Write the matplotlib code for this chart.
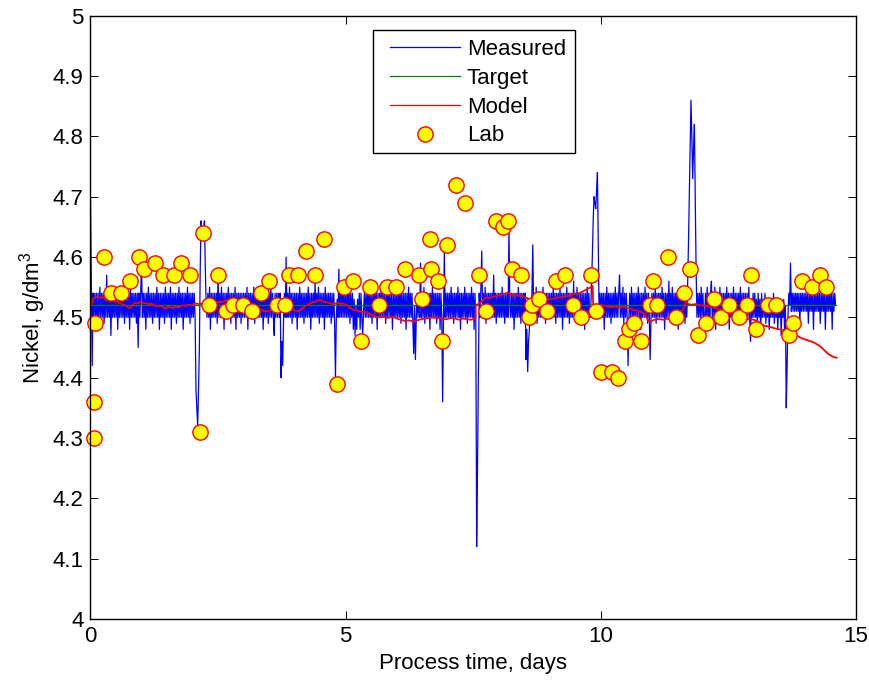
import numpy as np
import matplotlib.pyplot as plt
from matplotlib.patches import Rectangle

# measured nickel, hundredths of g/dm3, one sample every 1/60 day (3 lines = 1 day)
measured_centi = [
    470, 456, 442, 454, 450, 454, 450, 454, 448, 454, 450, 455, 450, 454, 450, 454, 449, 454, 450, 457,
    450, 454, 450, 454, 447, 454, 450, 454, 450, 455, 450, 454, 448, 454, 450, 454, 450, 455, 450, 454,
    449, 454, 450, 454, 450, 454, 448, 455, 450, 454, 450, 454, 450, 454, 449, 454, 445, 454, 450, 454,
    459, 450, 454, 450, 454, 448, 454, 450, 455, 450, 454, 450, 454, 449, 454, 450, 454, 450, 455, 450,
    454, 448, 454, 450, 454, 450, 454, 449, 455, 450, 454, 450, 454, 450, 455, 448, 454, 450, 454, 450,
    454, 449, 454, 450, 455, 450, 454, 450, 454, 448, 454, 450, 454, 450, 455, 450, 454, 449, 454, 450,
    454, 450, 454, 450, 438, 435, 432, 438, 445, 458, 466, 464, 463, 465, 466, 458, 452, 450, 454, 450,
    455, 448, 454, 450, 454, 450, 454, 450, 454, 449, 457, 450, 454, 450, 455, 450, 454, 448, 454, 450,
    454, 450, 455, 450, 454, 449, 454, 450, 454, 450, 455, 448, 454, 450, 454, 450, 454, 449, 454, 450,
    454, 450, 454, 450, 455, 448, 454, 450, 454, 450, 454, 450, 455, 449, 454, 450, 454, 450, 455, 450,
    454, 450, 454, 448, 454, 450, 454, 450, 454, 449, 454, 450, 455, 450, 454, 450, 447, 454, 450, 454,
    450, 454, 450, 454, 440, 446, 442, 450, 454, 450, 460, 450, 454, 450, 455, 450, 454, 449, 454, 450,
    454, 450, 454, 448, 454, 450, 455, 450, 454, 450, 454, 449, 454, 450, 454, 450, 455, 450, 454, 448,
    454, 450, 454, 450, 456, 450, 454, 450, 455, 449, 454, 450, 454, 450, 454, 448, 455, 450, 454, 450,
    454, 450, 454, 449, 454, 450, 454, 449, 440, 450, 453, 450, 458, 450, 454, 450, 455, 450, 454, 450,
    454, 450, 454, 450, 455, 449, 454, 450, 454, 448, 453, 447, 452, 448, 453, 450, 454, 448, 454, 450,
    447, 451, 454, 450, 454, 450, 455, 450, 454, 450, 454, 449, 454, 450, 455, 450, 454, 448, 454, 450,
    454, 450, 455, 450, 454, 450, 454, 449, 454, 450, 455, 450, 454, 450, 454, 448, 454, 450, 454, 450,
    454, 450, 454, 450, 455, 449, 454, 450, 454, 450, 454, 448, 454, 450, 455, 450, 454, 450, 454, 449,
    444, 452, 443, 450, 454, 450, 454, 450, 459, 450, 454, 450, 455, 449, 454, 450, 454, 450, 454, 448,
    454, 450, 455, 450, 454, 450, 454, 449, 454, 450, 454, 448, 454, 450, 436, 450, 461, 450, 454, 450,
    454, 450, 454, 450, 455, 450, 454, 449, 454, 450, 454, 450, 455, 450, 454, 448, 454, 450, 454, 450,
    455, 450, 454, 449, 454, 450, 454, 450, 455, 450, 454, 448, 454, 450, 412, 425, 440, 454, 450, 455,
    461, 450, 454, 450, 455, 449, 454, 450, 454, 450, 454, 450, 454, 450, 457, 450, 454, 449, 454, 450,
    454, 450, 454, 450, 455, 450, 454, 449, 454, 450, 454, 450, 465, 452, 450, 454, 450, 454, 448, 454,
    450, 454, 450, 455, 450, 454, 449, 454, 450, 454, 450, 454, 443, 448, 441, 446, 448, 452, 450, 454,
    462, 450, 454, 450, 455, 449, 454, 450, 454, 450, 454, 450, 455, 450, 454, 449, 454, 450, 454, 450,
    454, 450, 454, 450, 455, 450, 454, 449, 454, 450, 454, 450, 455, 450, 454, 448, 454, 450, 454, 450,
    455, 450, 454, 449, 454, 450, 454, 450, 456, 450, 454, 450, 455, 450, 454, 449, 454, 450, 454, 450,
    454, 448, 454, 450, 455, 450, 454, 450, 450, 456, 460, 466, 470, 469, 468, 471, 474, 462, 450, 454,
    450, 454, 450, 454, 448, 454, 450, 455, 450, 454, 450, 454, 449, 454, 450, 454, 450, 455, 450, 454,
    450, 454, 457, 450, 454, 450, 455, 449, 454, 450, 454, 450, 442, 450, 454, 450, 455, 450, 454, 449,
    454, 450, 454, 450, 455, 450, 454, 448, 454, 450, 454, 450, 455, 450, 454, 449, 454, 450, 443, 450,
    454, 450, 454, 450, 455, 449, 454, 450, 454, 450, 454, 450, 455, 450, 454, 448, 454, 450, 454, 450,
    456, 450, 454, 450, 455, 449, 454, 450, 454, 450, 454, 448, 454, 450, 455, 450, 454, 450, 454, 449,
    454, 450, 455, 462, 470, 478, 486, 480, 473, 478, 482, 470, 458, 450, 454, 450, 454, 450, 455, 450,
    454, 450, 448, 454, 450, 455, 450, 454, 448, 454, 456, 450, 454, 450, 455, 448, 454, 450, 454, 450,
    455, 450, 454, 449, 454, 450, 454, 450, 455, 450, 454, 448, 454, 450, 454, 450, 455, 449, 454, 450,
    454, 450, 454, 450, 455, 450, 454, 449, 454, 450, 454, 450, 454, 450, 455, 450, 446, 453, 450, 454,
    450, 454, 450, 453, 449, 454, 450, 453, 448, 454, 450, 453, 450, 454, 449, 453, 450, 453, 448, 452,
    450, 453, 450, 454, 449, 452, 450, 453, 448, 452, 450, 453, 447, 452, 450, 453, 448, 452, 435, 442,
    450, 454, 452, 459, 451, 454, 451, 454, 451, 454, 451, 454, 451, 454, 449, 454, 451, 454, 451, 454,
    451, 454, 451, 454, 449, 454, 451, 454, 451, 454, 448, 454, 451, 454, 451, 454, 451, 454, 449, 454,
    451, 454, 451, 454, 448, 454, 451, 454, 451, 454, 451, 454, 448, 454, 451, 454, 452,
]
measured = np.array(measured_centi) / 100.0
time = np.arange(len(measured)) / 60.0

target_days = [0.0, 14.6]
target_values = [4.52, 4.52]

model_days = [
    0.02, 0.05, 0.10, 0.15, 0.20, 0.25, 0.30, 0.35, 0.40, 0.45, 0.50, 0.55,
    0.62, 0.68, 0.73, 0.77, 0.82, 0.87, 0.93, 0.98, 1.03, 1.09, 1.14, 1.19,
    1.25, 1.32, 1.38, 1.46, 1.52, 1.59, 1.66, 1.73, 1.80, 1.85, 1.92, 1.98,
    2.05, 2.12, 2.20, 2.28, 2.36, 2.44, 2.52, 2.60, 2.66, 2.73, 2.79, 2.85,
    2.92, 3.00, 3.07, 3.14, 3.20, 3.26, 3.32, 3.39, 3.46, 3.53, 3.60, 3.66,
    3.73, 3.80, 3.86, 3.91, 3.98, 4.05, 4.12, 4.18, 4.24, 4.30, 4.36, 4.43,
    4.50, 4.56, 4.63, 4.70, 4.77, 4.84, 4.90, 4.95, 5.02, 5.08, 5.14, 5.21,
    5.28, 5.35, 5.42, 5.48, 5.55, 5.61, 5.67, 5.74, 5.80, 5.87, 5.94, 6.00,
    6.08, 6.16, 6.24, 6.32, 6.40, 6.48, 6.56, 6.64, 6.71, 6.78, 6.85, 6.92,
    6.98, 7.06, 7.14, 7.22, 7.30, 7.38, 7.45, 7.49, 7.54, 7.55, 7.60, 7.66,
    7.72, 7.77, 7.84, 7.90, 7.97, 8.04, 8.11, 8.18, 8.24, 8.31, 8.39, 8.47,
    8.55, 8.63, 8.71, 8.81, 8.90, 9.00, 9.08, 9.16, 9.24, 9.33, 9.41, 9.49,
    9.57, 9.65, 9.72, 9.78, 9.84, 9.85, 9.92, 9.99, 10.06, 10.12, 10.20, 10.28,
    10.36, 10.44, 10.51, 10.59, 10.67, 10.75, 10.82, 10.88, 10.93, 10.96, 11.02, 11.09,
    11.16, 11.23, 11.30, 11.35, 11.42, 11.49, 11.55, 11.60, 11.65, 11.68, 11.70, 11.78,
    11.86, 11.94, 12.00, 12.08, 12.16, 12.24, 12.33, 12.42, 12.50, 12.58, 12.66, 12.74,
    12.82, 12.92, 13.00, 13.06, 13.13, 13.20, 13.28, 13.36, 13.44, 13.51, 13.58, 13.66,
    13.74, 13.80, 13.86, 13.92, 13.98, 14.05, 14.12, 14.18, 14.24, 14.30, 14.36, 14.42,
    14.48, 14.54, 14.58, 14.62,
]
model_values = [
    4.521, 4.530, 4.534, 4.535, 4.532, 4.534, 4.529, 4.528, 4.530, 4.526, 4.527, 4.524,
    4.522, 4.520, 4.517, 4.515, 4.520, 4.524, 4.523, 4.526, 4.524, 4.523, 4.521, 4.523,
    4.520, 4.518, 4.519, 4.515, 4.517, 4.516, 4.518, 4.517, 4.520, 4.519, 4.521, 4.520,
    4.523, 4.522, 4.523, 4.522, 4.524, 4.523, 4.526, 4.526, 4.528, 4.530, 4.531, 4.528,
    4.527, 4.524, 4.522, 4.520, 4.519, 4.517, 4.514, 4.511, 4.510, 4.512, 4.510, 4.511,
    4.514, 4.516, 4.518, 4.517, 4.512, 4.510, 4.513, 4.517, 4.520, 4.523, 4.525, 4.527,
    4.529, 4.526, 4.525, 4.523, 4.522, 4.524, 4.522, 4.523, 4.520, 4.516, 4.513, 4.511,
    4.510, 4.509, 4.508, 4.505, 4.503, 4.501, 4.500, 4.501, 4.499, 4.500, 4.501, 4.498,
    4.496, 4.494, 4.495, 4.493, 4.495, 4.497, 4.498, 4.499, 4.500, 4.498, 4.499, 4.497,
    4.497, 4.499, 4.498, 4.496, 4.498, 4.497, 4.496, 4.497, 4.497, 4.520, 4.522, 4.526,
    4.531, 4.533, 4.532, 4.535, 4.536, 4.537, 4.539, 4.541, 4.538, 4.537, 4.536, 4.535,
    4.532, 4.529, 4.528, 4.526, 4.528, 4.530, 4.531, 4.533, 4.534, 4.535, 4.537, 4.539,
    4.540, 4.543, 4.546, 4.549, 4.552, 4.520, 4.521, 4.519, 4.520, 4.518, 4.517, 4.518,
    4.516, 4.517, 4.516, 4.514, 4.512, 4.510, 4.508, 4.502, 4.495, 4.492, 4.495, 4.497,
    4.497, 4.496, 4.498, 4.497, 4.501, 4.505, 4.509, 4.512, 4.520, 4.535, 4.522, 4.521,
    4.522, 4.520, 4.520, 4.519, 4.517, 4.516, 4.513, 4.510, 4.507, 4.504, 4.500, 4.498,
    4.497, 4.497, 4.496, 4.494, 4.490, 4.486, 4.485, 4.483, 4.481, 4.480, 4.479, 4.478,
    4.475, 4.472, 4.469, 4.466, 4.464, 4.462, 4.460, 4.458, 4.455, 4.452, 4.447, 4.442,
    4.438, 4.435, 4.434, 4.433,
]

lab_days = [
    0.06, 0.06, 0.08, 0.26, 0.41, 0.60, 0.77, 0.96, 1.05, 1.26, 1.42, 1.64,
    1.78, 1.95, 2.15, 2.21, 2.32, 2.50, 2.66, 2.79, 2.99, 3.16, 3.34, 3.50,
    3.66, 3.81, 3.89, 4.07, 4.22, 4.40, 4.57, 4.83, 4.97, 5.14, 5.31, 5.48,
    5.65, 5.81, 5.98, 6.16, 6.43, 6.50, 6.66, 6.68, 6.81, 6.88, 6.99, 7.17,
    7.34, 7.62, 7.75, 7.94, 8.09, 8.18, 8.25, 8.43, 8.59, 8.66, 8.79, 8.95,
    9.13, 9.29, 9.46, 9.61, 9.80, 9.90, 10.01, 10.21, 10.34, 10.48, 10.55, 10.65,
    10.78, 10.96, 11.02, 11.11, 11.31, 11.47, 11.63, 11.74, 11.91, 12.06, 12.22, 12.36,
    12.51, 12.71, 12.87, 12.95, 13.04, 13.28, 13.43, 13.69, 13.77, 13.95, 14.13, 14.29,
    14.42,
]
lab_values = [
    4.36, 4.30, 4.49, 4.60, 4.54, 4.54, 4.56, 4.60, 4.58, 4.59, 4.57, 4.57,
    4.59, 4.57, 4.31, 4.64, 4.52, 4.57, 4.51, 4.52, 4.52, 4.51, 4.54, 4.56,
    4.52, 4.52, 4.57, 4.57, 4.61, 4.57, 4.63, 4.39, 4.55, 4.56, 4.46, 4.55,
    4.52, 4.55, 4.55, 4.58, 4.57, 4.53, 4.63, 4.58, 4.56, 4.46, 4.62, 4.72,
    4.69, 4.57, 4.51, 4.66, 4.65, 4.66, 4.58, 4.57, 4.50, 4.52, 4.53, 4.51,
    4.56, 4.57, 4.52, 4.50, 4.57, 4.51, 4.41, 4.41, 4.40, 4.46, 4.48, 4.49,
    4.46, 4.52, 4.56, 4.52, 4.60, 4.50, 4.54, 4.58, 4.47, 4.49, 4.53, 4.50,
    4.52, 4.50, 4.52, 4.57, 4.48, 4.52, 4.52, 4.47, 4.49, 4.56, 4.55, 4.57,
    4.55,
]

x_ticks = [0, 5, 10, 15]
y_ticks = [4.0, 4.1, 4.2, 4.3, 4.4, 4.5, 4.6, 4.7, 4.8, 4.9, 5.0]
y_tick_labels = ["4", "4.1", "4.2", "4.3", "4.4", "4.5", "4.6", "4.7", "4.8", "4.9", "5"]

plt.rcParams["font.family"] = ["Liberation Sans", "DejaVu Sans"]
plt.rcParams["mathtext.fontset"] = "custom"
plt.rcParams["mathtext.rm"] = "Liberation Sans"
plt.rcParams["mathtext.it"] = "Liberation Sans:italic"
plt.rcParams["path.simplify"] = False

fig = plt.figure(figsize=(8.7, 6.82), dpi=100)
ax = fig.add_axes([90.5 / 870, 63 / 682, 765.5 / 870, 603.3 / 682])

ax.plot(time, measured, color="blue", lw=0.9, label="Measured")
ax.plot(target_days, target_values, color=(0, 0.5, 0), lw=0.9, label="Target")
ax.plot(model_days, model_values, color="red", lw=1.3, label="Model")
ax.plot(lab_days, lab_values, "o", ms=11, mfc="yellow", mec="red", mew=1.0,
        label="Lab", clip_on=False)

ax.set_xlim(0, 15)
ax.set_ylim(4, 5)
ax.set_xticks(x_ticks)
ax.set_yticks(y_ticks)
ax.set_yticklabels(y_tick_labels)
ax.tick_params(direction="in", top=True, right=True, length=5.5, width=0.7,
               labelsize=16, pad=5)
for s in ax.spines.values():
    s.set_linewidth(1.0)

ax.set_xlabel("Process time, days", fontsize=16, labelpad=4)
ax.set_ylabel("Nickel, g/dm$^3$", fontsize=16, labelpad=3.5)

# legend frame drawn by hand so the inner padding matches
ax.add_patch(Rectangle((373 / 870, (682 - 153) / 682), 202 / 870, 123 / 682,
                       transform=fig.transFigure, facecolor="white",
                       edgecolor="black", lw=1.0, zorder=4.5, clip_on=False))
leg = ax.legend(loc="upper left", bbox_to_anchor=(390 / 870, (682 - 39) / 682),
                bbox_transform=fig.transFigure, frameon=False, fontsize=16,
                handlelength=3.15, handletextpad=0.3, borderpad=0,
                borderaxespad=0, labelspacing=0.35)
for h in leg.get_lines()[:3]:
    h.set_linewidth(0.9)

fig.savefig("out.png", dpi=100)
